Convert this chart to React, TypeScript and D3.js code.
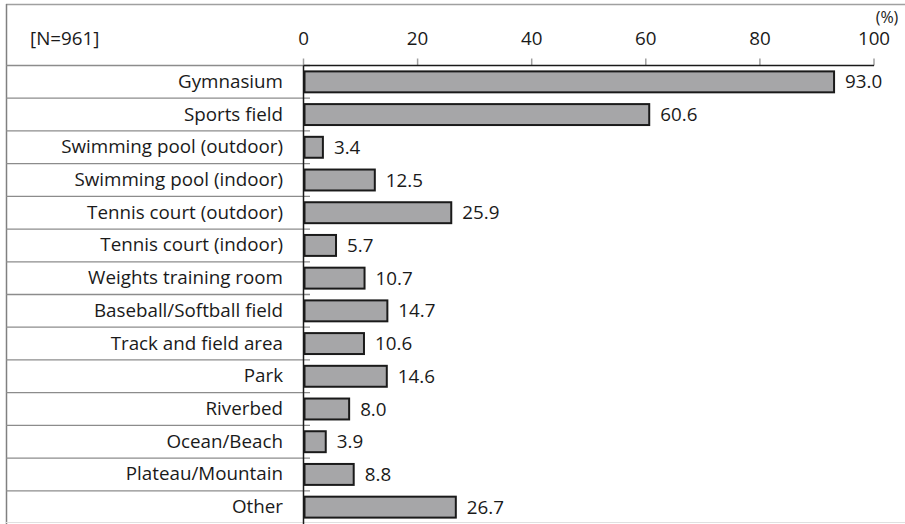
import React from "react";
import * as d3 from "d3";

const categories = [
  "Gymnasium",
  "Sports field",
  "Swimming pool (outdoor)",
  "Swimming pool (indoor)",
  "Tennis court (outdoor)",
  "Tennis court (indoor)",
  "Weights training room",
  "Baseball/Softball field",
  "Track and field area",
  "Park",
  "Riverbed",
  "Ocean/Beach",
  "Plateau/Mountain",
  "Other",
];
const values = [93.0, 60.6, 3.4, 12.5, 25.9, 5.7, 10.7, 14.7, 10.6, 14.6, 8.0, 3.9, 8.8, 26.7];
const ticks = [0, 20, 40, 60, 80, 100];
const sampleLabel = "[N=961]";
const unitLabel = "(%)";

const W = 905;
const H = 524;
const FONT = "'Open Sans', 'Noto Sans', sans-serif";
const FS = 18.8;

export default function App() {
  const x = d3.scaleLinear().domain([0, 100]).range([303.5, 874]);
  const y = d3.scaleBand<string>().domain(categories).range([65.5, 523.5]).paddingInner(0.36).paddingOuter(0.18);
  const rowH = (523.5 - 65.5) / categories.length;
  const axisY = 65.5;

  return (
    <svg
      width={W}
      height={H}
      style={{ position: "absolute", left: 0, top: 0, display: "block" }}
      fontFamily={FONT}
    >
      <rect x={0} y={0} width={W} height={H} fill="#ffffff" />
      {/* frame lines */}
      <line x1={6} x2={W} y1={4.5} y2={4.5} stroke="#a0a0a0" strokeWidth={1.5} />
      <line x1={6.5} x2={6.5} y1={4} y2={H} stroke="#808080" strokeWidth={1.5} />
      <line x1={6} x2={W} y1={522.5} y2={522.5} stroke="#e0e0e0" strokeWidth={1} />
      {/* row separators */}
      {categories.map((c, i) => (
        <line
          key={"sep" + i}
          x1={6}
          x2={310}
          y1={65.5 + rowH * i}
          y2={65.5 + rowH * i}
          stroke="#8c8c8c"
          strokeWidth={1.3}
        />
      ))}
      {/* header */}
      <text x={30} y={40} fontSize={FS} fill="#1a1a1a" dominantBaseline="middle">
        {sampleLabel}
      </text>
      {ticks.map((t) => (
        <g key={"t" + t}>
          <line x1={x(t)} x2={x(t)} y1={58.5} y2={axisY} stroke="#a0a0a0" strokeWidth={1.5} />
          <text x={x(t)} y={40} fontSize={FS} fill="#1a1a1a" textAnchor="middle" dominantBaseline="middle">
            {t}
          </text>
        </g>
      ))}
      <text x={887} y={19} fontSize={16} fill="#1a1a1a" textAnchor="middle" dominantBaseline="middle">
        {unitLabel}
      </text>
      {/* axis lines */}
      <line x1={x(0)} x2={x(100)} y1={axisY} y2={axisY} stroke="#1a1a1a" strokeWidth={1.5} />
      <line x1={x(0)} x2={x(0)} y1={axisY} y2={H} stroke="#1a1a1a" strokeWidth={1.5} />
      {/* bars */}
      {categories.map((c, i) => {
        const yy = y(c)!;
        const bw = y.bandwidth();
        return (
          <g key={"b" + i}>
            <rect
              x={x(0) + 1}
              y={yy}
              width={x(values[i]) - x(0) - 1}
              height={bw}
              fill="#a6a6a8"
              stroke="#1a1a1a"
              strokeWidth={2}
            />
            <text
              x={x(values[i]) + 11}
              y={yy + bw / 2 + 1.5}
              fontSize={FS}
              fill="#1a1a1a"
              dominantBaseline="middle"
            >
              {values[i].toFixed(1)}
            </text>
            <text
              x={283}
              y={yy + bw / 2 + 1}
              fontSize={FS}
              fill="#1a1a1a"
              textAnchor="end"
              dominantBaseline="middle"
            >
              {c}
            </text>
          </g>
        );
      })}
    </svg>
  );
}
